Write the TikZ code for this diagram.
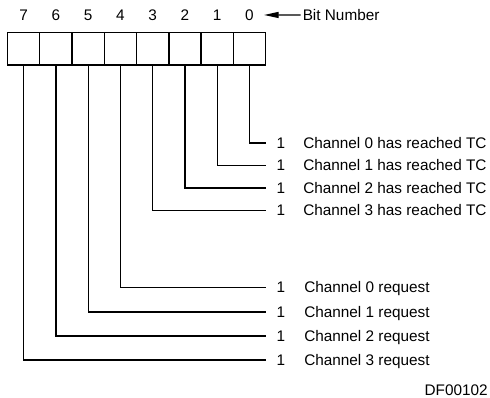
\documentclass[tikz,border=0pt]{standalone}
\usepackage{fontspec}
\setmainfont{Liberation Sans}
\usetikzlibrary{arrows.meta}
\begin{document}
\begin{tikzpicture}[x=0.75pt,y=-0.75pt,
  cell/.style={draw,line width=1.1pt,minimum width=24.2pt,minimum height=24.5pt,inner sep=0pt},
  lbl/.style={font=\fontsize{11.5}{13}\selectfont,inner sep=0pt},
  one/.style={lbl,inner xsep=8pt},
  desc/.style={lbl,anchor=base west},
  wire/.style={line width=0.95pt}]
\useasboundingbox (0,0) rectangle (490,398);
\foreach \b in {0,...,7} {
  \pgfmathsetmacro\cx{249.5-32.27*\b}
  \node[cell] (c\b) at (\cx,48.7) {};
  \node[lbl] (d\b) at (\cx,15) {\b};
}
\node[lbl,anchor=base west,inner xsep=1.5pt] (bn) at (300.5,20.4) {Bit Number};
\coordinate (tip) at (264,15);
\draw[wire,-{Triangle[length=11pt,width=4.5pt]}] (bn.west) -- (tip);
\foreach \b/\y in {0/143,1/165.5,2/188,3/210.5} {
  \node[one] (o\b) at (281,\y) {1};
  \node[desc] (t\b) at (303,\y+5.3) {Channel \b\ has reached TC};
  \draw[wire] (c\b.south) |- (o\b.west);
}
\foreach \b/\k/\y in {4/0/287.5,5/1/312,6/2/336,7/3/360} {
  \node[one] (o\b) at (281,\y) {1};
  \node[desc] (t\b) at (304,\y+5.3) {Channel \k\ request};
  \draw[wire] (c\b.south) |- (o\b.west);
}
\node[lbl,anchor=base east] (df) at (488,396) {DF00102};
\end{tikzpicture}
\end{document}
